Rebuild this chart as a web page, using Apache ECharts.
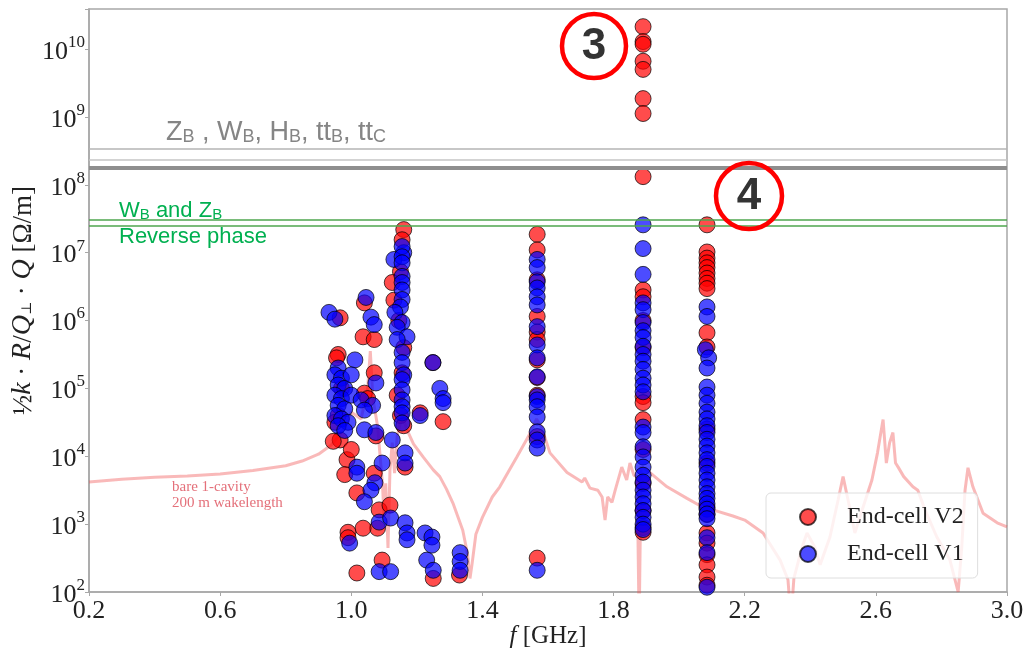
<!DOCTYPE html>
<html>
<head>
<meta charset="utf-8">
<script src="https://cdn.jsdelivr.net/npm/echarts@6/dist/echarts.min.js"></script>
<style>
html, body { margin: 0; padding: 0; background: #fff; }
#chart { width: 1024px; height: 651px; }
</style>
</head>
<body>
<div id="chart"></div>
<script>
// values are [f in GHz, log10 of 1/2 k R/Q Q in Ohm/m]
var endCellV2 = [
    // 1.89 GHz column
    [1.89, 10.33], [1.89, 10.11], [1.89, 10.07], [1.89, 9.82], [1.89, 9.70], [1.89, 9.27], [1.89, 9.05], [1.89, 8.12],
    [1.89, 6.45], [1.89, 6.35], [1.89, 6.00], [1.89, 5.60], [1.89, 4.88], [1.89, 4.79], [1.89, 4.54], [1.89, 4.10],
    [1.89, 3.60], [1.89, 3.20], [1.89, 2.95], [1.89, 2.88],
    // 2.085 GHz column
    [2.085, 7.41], [2.085, 7.01], [2.085, 6.92], [2.085, 6.85], [2.085, 6.78], [2.085, 6.70], [2.085, 6.62], [2.085, 6.55],
    [2.085, 6.47], [2.085, 5.82], [2.085, 5.61], [2.085, 4.40], [2.085, 3.90], [2.085, 3.25], [2.085, 3.14], [2.085, 2.87],
    [2.085, 2.72], [2.085, 2.55], [2.085, 2.40], [2.085, 2.22], [2.085, 2.10],
    // 1.57 GHz column
    [1.567, 7.27], [1.567, 7.04], [1.567, 6.60], [1.567, 6.06], [1.567, 5.83], [1.567, 5.72], [1.567, 5.42], [1.567, 5.16],
    [1.567, 4.90], [1.567, 4.29], [1.567, 2.50],
    // 1.0 - 1.3 GHz group
    [1.16, 7.34], [1.155, 7.19], [1.15, 6.72], [1.125, 6.56], [1.13, 6.30], [1.145, 6.00], [1.16, 5.60], [1.155, 5.23],
    [1.14, 4.90], [1.15, 4.60], [1.16, 4.45],
    [0.966, 6.04], [0.96, 5.50], [0.955, 5.45], [0.97, 5.00], [0.96, 4.60], [0.966, 4.24], [0.945, 4.22], [0.95, 4.50],
    [1.04, 6.26], [1.036, 5.76], [1.07, 5.72], [1.07, 5.23], [1.04, 4.93], [1.05, 4.85], [1.075, 4.30], [1.249, 5.38],
    [1.28, 4.51], [1.21, 4.64], [1.164, 3.84], [0.987, 3.95], [0.98, 3.73], [1.07, 3.75], [1.017, 3.46], [1.085, 3.21],
    [1.118, 3.28], [1.08, 2.94], [1.036, 2.94], [0.99, 2.88], [0.99, 2.80], [1.094, 2.47], [1.25, 2.20], [1.017, 2.28],
    [1.33, 2.25], [1.00, 4.10]
];

var endCellV1 = [
    // 1.89 GHz column
    [1.89, 7.41], [1.89, 7.06], [1.89, 6.68], [1.89, 6.26], [1.89, 6.16], [1.89, 5.97], [1.89, 5.85], [1.89, 5.75],
    [1.89, 5.62], [1.89, 5.50], [1.89, 5.40], [1.89, 5.28], [1.89, 5.15], [1.89, 5.05], [1.89, 4.95], [1.89, 4.43],
    [1.89, 4.35], [1.89, 4.14], [1.89, 3.99], [1.89, 3.84], [1.89, 3.72], [1.89, 3.62], [1.89, 3.50], [1.89, 3.40],
    [1.89, 3.30], [1.89, 3.20], [1.89, 3.10], [1.89, 3.00], [1.89, 2.92],
    // 2.085 GHz column
    [2.085, 6.20], [2.085, 6.06], [2.08, 5.57], [2.09, 5.45], [2.085, 5.30], [2.085, 5.02], [2.085, 4.90], [2.085, 4.78],
    [2.085, 4.65], [2.085, 4.55], [2.085, 4.45], [2.085, 4.35], [2.085, 4.25], [2.085, 4.15], [2.085, 4.05], [2.085, 3.95],
    [2.085, 3.85], [2.085, 3.75], [2.085, 3.65], [2.085, 3.55], [2.085, 3.45], [2.085, 3.38], [2.085, 3.30], [2.085, 3.22],
    [2.085, 3.15], [2.085, 3.08], [2.085, 2.80], [2.085, 2.58], [2.085, 2.07],
    // 1.57 GHz column
    [1.567, 6.90], [1.567, 6.78], [1.567, 6.57], [1.567, 6.48], [1.567, 6.35], [1.567, 6.23], [1.567, 5.91], [1.567, 5.64],
    [1.567, 5.45], [1.567, 5.17], [1.567, 4.88], [1.567, 4.83], [1.567, 4.73], [1.567, 4.58], [1.567, 4.36], [1.567, 4.24],
    [1.567, 4.12], [1.567, 2.32],
    // 1.0 - 1.3 GHz group
    [1.16, 7.00], [1.155, 7.09], [1.13, 6.90], [1.155, 6.94], [1.155, 6.85], [1.155, 6.65], [1.155, 6.56], [1.155, 6.45],
    [1.155, 6.31], [1.15, 6.20], [1.133, 6.12], [1.155, 5.97], [1.14, 5.90], [1.17, 5.76], [1.14, 5.72], [1.155, 5.53],
    [1.155, 5.38], [1.16, 5.20], [1.155, 5.13], [1.155, 4.98], [1.155, 4.83], [1.155, 4.73], [1.155, 4.64], [1.155, 4.49],
    [0.932, 6.12], [0.95, 6.02], [1.011, 5.42], [0.96, 5.30], [0.95, 5.20], [0.97, 5.15], [0.96, 5.05], [0.98, 5.00],
    [0.95, 4.90], [0.97, 4.85], [0.96, 4.75], [0.98, 4.70], [0.95, 4.60], [0.97, 4.55], [0.99, 4.50], [0.96, 4.45],
    [0.98, 4.38], [1.00, 4.90], [1.00, 5.20],
    [1.045, 6.34], [1.06, 6.05], [1.07, 5.94], [1.075, 5.08], [1.03, 4.83], [1.065, 4.75], [1.04, 4.68], [1.04, 4.39],
    [1.075, 4.35], [1.125, 4.24], [1.164, 4.05], [1.164, 3.90], [1.017, 3.84], [1.017, 3.75], [1.072, 3.61], [1.06, 3.50],
    [1.04, 3.33], [1.094, 3.90], [1.085, 3.03], [1.12, 3.09], [1.164, 3.02], [1.17, 2.87], [1.17, 2.77], [0.995, 2.72],
    [1.225, 2.87], [1.246, 2.81], [1.246, 2.69], [1.23, 2.47], [1.085, 2.30], [1.12, 2.30], [1.25, 2.32], [1.332, 2.58],
    [1.332, 2.45], [1.332, 2.32], [1.27, 5.00], [1.28, 4.85], [1.28, 4.79], [1.21, 4.60], [1.249, 5.38]
];

// bare 1-cavity, 200 m wakelength
var bareCavityF = [0.20, 0.30, 0.40, 0.50, 0.60, 0.70, 0.80, 0.85, 0.90, 0.94, 0.97, 1.00, 1.03, 1.05, 1.058, 1.066,
    1.08, 1.095, 1.10, 1.105, 1.112, 1.118, 1.125, 1.132, 1.14, 1.155, 1.17, 1.19, 1.219, 1.25, 1.27, 1.29, 1.31, 1.34,
    1.355, 1.362, 1.368, 1.38, 1.40, 1.43, 1.453, 1.48, 1.505, 1.54, 1.565, 1.58, 1.606, 1.658, 1.704, 1.712, 1.728,
    1.752, 1.765, 1.774, 1.782, 1.795, 1.805, 1.825, 1.84, 1.85, 1.862, 1.872, 1.878, 1.884, 1.90, 1.911, 1.963, 2.024,
    2.064, 2.08, 2.085, 2.09, 2.103, 2.164, 2.20, 2.256, 2.308, 2.332, 2.341, 2.35, 2.375, 2.39, 2.414, 2.43, 2.46,
    2.485, 2.50, 2.515, 2.536, 2.555, 2.588, 2.605, 2.622, 2.632, 2.642, 2.652, 2.66, 2.668, 2.685, 2.713, 2.728, 2.75,
    2.786, 2.826, 2.851, 2.862, 2.872, 2.881, 2.896, 2.927, 2.97, 3.0];
var bareCavityLog = [3.62, 3.66, 3.69, 3.71, 3.74, 3.79, 3.86, 3.93, 4.03, 4.17, 4.35, 4.65, 4.55, 5.00, 5.55, 4.85,
    4.45, 3.60, 3.10, 3.60, 2.65, 3.80, 4.20, 3.75, 4.30, 4.60, 4.39, 4.18, 3.99, 3.80, 3.70, 3.52, 3.31, 2.91,
    2.55, 2.20, 2.40, 2.85, 3.10, 3.40, 3.55, 3.78, 3.99, 4.29, 4.55, 4.43, 4.05, 3.76, 3.62, 3.68, 3.53,
    3.50, 3.40, 3.06, 3.40, 3.32, 3.50, 3.84, 3.65, 3.90, 3.72, 3.70, 1.50, 3.85, 3.80, 3.76, 3.55, 3.38,
    3.27, 3.60, 4.00, 3.50, 3.21, 3.12, 3.06, 2.87, 2.47, 2.18, 1.60, 2.20, 2.66, 2.87, 2.66, 2.40, 2.81,
    3.36, 3.70, 3.36, 2.87, 3.16, 3.65, 4.05, 4.54, 3.90, 4.20, 4.35, 3.90, 3.84, 3.70, 3.55, 3.50, 3.21,
    2.81, 2.47, 2.00, 2.66, 3.50, 3.83, 3.55, 3.16, 3.02, 2.96];

// horizontal reference levels in Ohm/m
var grayLevels = [3.42e8, 2.36e8, 1.85e8, 1.73e8];
var greenLevels = [3.07e7, 2.5e7];

var serif = "'Liberation Serif', 'DejaVu Serif', serif";
var sans = "'Liberation Sans', Arial, sans-serif";

var chart = echarts.init(document.getElementById('chart'), null, { renderer: 'canvas' });

var curveData = [];
for (var i = 0; i < bareCavityF.length; i++) {
    curveData.push([bareCavityF[i], bareCavityLog[i]]);
}

var grayStyles = [
    { color: '#b4b4b4', width: 1.5 },
    { color: '#c4c4c4', width: 1.5 },
    { color: '#8e8e8e', width: 2 },
    { color: '#8e8e8e', width: 2 }
];
var levelLines = [];
grayLevels.forEach(function (v, k) {
    levelLines.push({ yAxis: Math.log10(v), lineStyle: { color: grayStyles[k].color, width: grayStyles[k].width, type: 'solid' } });
});
greenLevels.forEach(function (v) {
    levelLines.push({ yAxis: Math.log10(v), lineStyle: { color: '#4ea64e', width: 1.5, type: 'solid' } });
});

function dotSeries(name, color, data) {
    return {
        name: name,
        type: 'scatter',
        symbol: 'circle',
        symbolSize: 16,
        data: data,
        itemStyle: {
            color: color,
            borderColor: '#000',
            borderWidth: 1,
            opacity: 0.7
        },
        emphasis: { disabled: true },
        z: 3
    };
}

var option = {
    animation: false,
    backgroundColor: '#fff',
    grid: {
        left: 89, right: 17, top: 9, bottom: 59,
        outerBoundsMode: 'none',
        containLabel: false,
        show: true,
        borderColor: '#a8a8a8',
        borderWidth: 1.5
    },
    xAxis: {
        type: 'value',
        min: 0.2,
        max: 3.0,
        interval: 0.4,
        splitLine: { show: false },
        axisLine: { lineStyle: { color: '#a8a8a8', width: 1.5 } },
        axisTick: { show: true, length: 4, lineStyle: { color: '#a8a8a8' } },
        axisLabel: {
            color: '#222', fontFamily: serif, fontSize: 26, margin: 6,
            formatter: function (v) { return v.toFixed(1); }
        },
        name: '{i|f} [GHz]',
        nameLocation: 'middle',
        nameGap: 32,
        nameMoveOverlap: false,
        nameTextStyle: {
            color: '#222', fontFamily: serif, fontSize: 25,
            rich: { i: { fontStyle: 'italic', fontFamily: serif, fontSize: 25, color: '#222' } }
        }
    },
    yAxis: {
        type: 'value',
        min: 2,
        max: 10.59,
        interval: 1,
        splitLine: { show: false },
        axisLine: { lineStyle: { color: '#a8a8a8', width: 1.5 } },
        axisTick: { show: true, length: 4, lineStyle: { color: '#a8a8a8' } },
        axisLabel: {
            margin: 4,
            formatter: function (v) {
                if (Math.abs(v - Math.round(v)) > 1e-6) return '';
                return '{b|10}{s|' + Math.round(v) + '}';
            },
            rich: {
                b: { fontFamily: serif, fontSize: 26, color: '#222', lineHeight: 32, verticalAlign: 'bottom' },
                s: { fontFamily: serif, fontSize: 17, color: '#222', lineHeight: 18, padding: [0, 0, 14, 0], verticalAlign: 'bottom' }
            }
        },
        name: '{n|½}{i|k}{n| · }{i|R}{n|/}{i|Q}{d|⊥}{n| · }{i|Q}{n| [Ω/m]}',
        nameLocation: 'middle',
        nameRotate: 90,
        nameGap: 52,
        nameMoveOverlap: false,
        nameTextStyle: {
            color: '#222', fontFamily: serif, fontSize: 27,
            rich: {
                n: { fontFamily: serif, fontSize: 27, color: '#222', lineHeight: 32, verticalAlign: 'bottom' },
                i: { fontFamily: serif, fontStyle: 'italic', fontSize: 28, color: '#222', lineHeight: 32, verticalAlign: 'bottom' },
                d: { fontFamily: "'DejaVu Serif', serif", fontSize: 14, color: '#222', lineHeight: 15, padding: [15, 0, 0, 0], verticalAlign: 'top' }
            }
        }
    },
    legend: {
        data: ['End-cell V2', 'End-cell V1'],
        orient: 'vertical',
        left: 766,
        top: 493,
        padding: [12, 14, 12, 33],
        itemWidth: 16,
        itemHeight: 16,
        itemGap: 13,
        backgroundColor: 'rgba(255,255,255,0.8)',
        borderColor: '#dedede',
        borderWidth: 1,
        borderRadius: 5,
        textStyle: { fontFamily: serif, fontSize: 24, color: '#222', lineHeight: 24, padding: [0, 0, 0, 26] }
    },
    series: [
        {
            name: 'bare',
            type: 'line',
            data: curveData,
            showSymbol: false,
            symbol: 'none',
            clip: true,
            lineStyle: { color: 'rgba(240,80,80,0.4)', width: 3 },
            emphasis: { disabled: true },
            silent: true,
            z: 1,
            markLine: {
                silent: true,
                symbol: ['none', 'none'],
                label: { show: false },
                animation: false,
                data: levelLines
            }
        },
        dotSeries('End-cell V2', '#ff0000', endCellV2),
        dotSeries('End-cell V1', '#0000ff', endCellV1)
    ],
    graphic: [
        {
            type: 'text', left: 166, top: 114, z: 10,
            style: {
                text: '{a|Z}{b|B}{a| , W}{b|B}{a|, H}{b|B}{a|, tt}{b|B}{a|, tt}{b|C}',
                rich: {
                    a: { fontFamily: sans, fontSize: 27, fill: '#858585', lineHeight: 32, verticalAlign: 'bottom' },
                    b: { fontFamily: sans, fontSize: 18, fill: '#858585', lineHeight: 18, padding: [14, 0, 0, 0], verticalAlign: 'top' }
                }
            }
        },
        {
            type: 'text', left: 119, top: 194, z: 10,
            style: {
                text: '{a|W}{b|B}{a| and Z}{b|B}',
                rich: {
                    a: { fontFamily: sans, fontSize: 22, fill: '#00b050', lineHeight: 28, verticalAlign: 'bottom' },
                    b: { fontFamily: sans, fontSize: 15, fill: '#00b050', lineHeight: 15, padding: [13, 0, 0, 0], verticalAlign: 'top' }
                }
            }
        },
        {
            type: 'text', left: 119, top: 226, z: 10,
            style: { text: 'Reverse phase', fontFamily: sans, fontSize: 22, fill: '#00b050' }
        },
        {
            type: 'text', left: 172, top: 479, z: 10,
            style: { text: 'bare 1-cavity\n200 m wakelength', fontFamily: serif, fontSize: 15, lineHeight: 16, fill: '#e4707a' }
        },
        {
            type: 'circle', z: 10,
            shape: { cx: 594, cy: 46, r: 32 },
            style: { fill: 'rgba(255,255,255,0)', stroke: '#ff0000', lineWidth: 4.5 }
        },
        {
            type: 'text', z: 11, x: 594, y: 47,
            style: { text: '3', fontFamily: sans, fontWeight: 'bold', fontSize: 44, fill: '#333', align: 'center', verticalAlign: 'middle' }
        },
        {
            type: 'circle', z: 10,
            shape: { cx: 749, cy: 196, r: 33 },
            style: { fill: 'rgba(255,255,255,0)', stroke: '#ff0000', lineWidth: 4.5 }
        },
        {
            type: 'text', z: 11, x: 749, y: 197,
            style: { text: '4', fontFamily: sans, fontWeight: 'bold', fontSize: 44, fill: '#333', align: 'center', verticalAlign: 'middle' }
        }
    ]
};

chart.setOption(option);
</script>
</body>
</html>
